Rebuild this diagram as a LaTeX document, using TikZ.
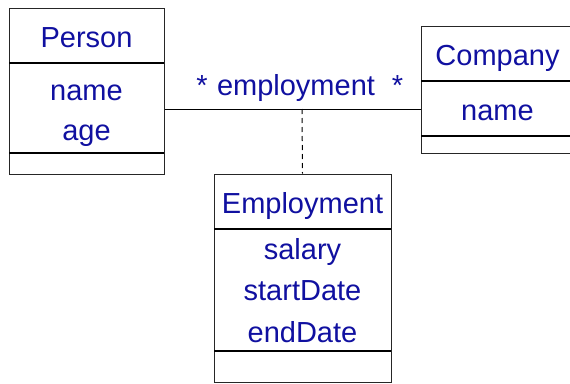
\documentclass[tikz,border=0pt]{standalone}
\usepackage{fontspec}
\setmainfont{Liberation Sans}
\begin{document}
\begin{tikzpicture}[x=1pt,y=-1pt,
  classbox/.style={draw=black!85,line width=1pt,rectangle,inner sep=0pt},
  divider/.style={draw=black,line width=1.8pt},
  member/.style={text=umlblue,anchor=base,inner sep=0pt,font=\fontsize{29}{34}\selectfont},
  assocline/.style={draw=black,line width=1pt},
  linkline/.style={draw=black,line width=1pt,dash pattern=on 5pt off 4pt}]
\definecolor{umlblue}{RGB}{16,16,160}
\useasboundingbox (0,0) rectangle (570,383);

% class boxes
\node[classbox,minimum width=155pt,minimum height=166pt] (person) at (86.5,91) {};
\node[classbox,minimum width=153pt,minimum height=127pt] (company) at (497.5,89.5) {};
\node[classbox,minimum width=177pt,minimum height=208pt] (employment) at (302.5,278) {};

% compartment dividers
\draw[divider] (9,63) -- (164,63);
\draw[divider] (9,153) -- (164,153);
\draw[divider] (421,81) -- (574,81);
\draw[divider] (421,136) -- (574,136);
\draw[divider] (214,229) -- (391,229);
\draw[divider] (214,351) -- (391,351);

% class names and attributes
\node[member] (pname) at (86.5,47) {Person};
\node[member] (pattr1) at (86.5,100) {name};
\node[member] (pattr2) at (86.5,140) {age};
\node[member] (cname) at (497.5,65) {Company};
\node[member] (cattr1) at (497.5,120) {name};
\node[member] (ename) at (302.5,213) {Employment};
\node[member] (eattr1) at (302.5,259) {salary};
\node[member] (eattr2) at (302.5,300) {startDate};
\node[member] (eattr3) at (302.5,342) {endDate};

% association with its class
\coordinate (assoc) at (302,109);
\draw[assocline] (person.east |- assoc) -- (company.west |- assoc);
\draw[linkline] (assoc) -- (employment.north);
\node[member] (mult1) at (202,95) {*};
\node[member] (aname) at (296,95) {employment};
\node[member] (mult2) at (397.5,95) {*};
\end{tikzpicture}
\end{document}
